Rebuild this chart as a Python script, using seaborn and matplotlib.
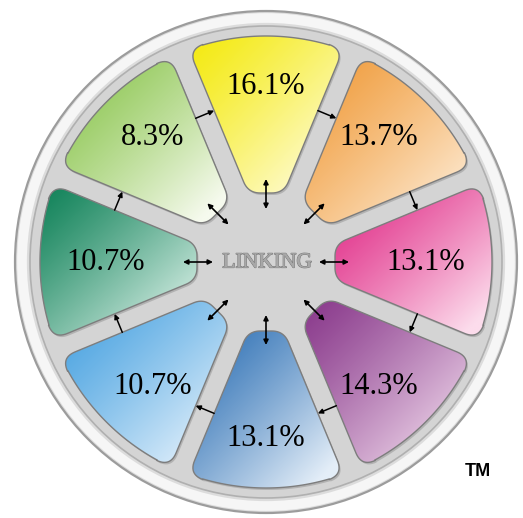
import numpy as np
import matplotlib
matplotlib.use('Agg')
import matplotlib.pyplot as plt
import seaborn as sns
from matplotlib.patches import Polygon, Circle, FancyArrowPatch
import matplotlib.patheffects as pe

# Data: wheel segments, clockwise from the top
labels = ['16.1%', '13.7%', '13.1%', '14.3%', '13.1%', '10.7%', '10.7%', '8.3%']
values = [16.1, 13.7, 13.1, 14.3, 13.1, 10.7, 10.7, 8.3]
strong_colors = ['#f4ea12', '#f09a38', '#e02a86', '#8a3a8c', '#2c6fb4', '#44a0e0', '#12835a', '#88c44a']
pale_colors = ['#fffcd8', '#fde9d0', '#fcdcec', '#eed6ea', '#e4eef8', '#e2f0fb', '#d8efe6', '#f6faee']
center_text = 'LINKING'

sns.set_theme(style='white')
plt.rcParams['font.family'] = ['Liberation Serif', 'DejaVu Serif']

fig = plt.figure(figsize=(5.23, 5.18), dpi=100)
ax = fig.add_axes([0, 0, 1, 1])
ax.set_xlim(0, 523)
ax.set_ylim(518, 0)
ax.set_aspect('equal')
ax.axis('off')

cx, cy = 266, 262
R_out, R_in, half_gap, corner = 226, 69, 10, 15
n = len(values)
step = 2 * np.pi / n


def unit(v):
    return v / np.linalg.norm(v)


def fillet(P, d1, d2, r):
    p1, p2 = P + r * d1, P + r * d2
    s = np.linspace(0, 1, 14)[:, None]
    return (1 - s) ** 2 * p1 + 2 * s * (1 - s) * P + s ** 2 * p2


def local_outline():
    t = np.tan(step / 2)
    k = half_gap / np.cos(step / 2)
    a, b, c = 1 + t * t, -2 * k * t, k * k - R_out ** 2
    yo = (-b + np.sqrt(b * b - 4 * a * c)) / (2 * a)
    xo = yo * t - k
    ao = np.arctan2(xo, yo)
    xi = R_in * t - k
    IL, OL = np.array([-xi, R_in]), np.array([-xo, yo])
    OR, IR = np.array([xo, yo]), np.array([xi, R_in])
    pts = [fillet(IL, np.array([1.0, 0]), unit(OL - IL), corner - 3),
           fillet(OL, unit(IL - OL), np.array([np.cos(ao), np.sin(ao)]), corner)]
    dphi = corner / R_out
    phi = np.linspace(-ao + dphi, ao - dphi, 60)
    pts.append(np.c_[R_out * np.sin(phi), R_out * np.cos(phi)])
    pts.append(fillet(OR, np.array([-np.cos(ao), np.sin(ao)]), unit(IR - OR), corner))
    pts.append(fillet(IR, unit(OR - IR), np.array([-1.0, 0]), corner - 3))
    return np.vstack(pts)


def to_image(local, theta):
    u = np.array([np.cos(theta), np.sin(theta)])
    v = np.array([np.sin(theta), -np.cos(theta)])
    w = local[:, 1:2] * u + local[:, 0:1] * v
    return np.c_[cx + w[:, 0], cy - w[:, 1]]


def polar(r, theta):
    return cx + r * np.cos(theta), cy - r * np.sin(theta)


# outer disc and rim
ax.add_patch(Circle((cx, cy), 251, fc='#dcdcdc', ec='#9c9c9c', lw=1.6, zorder=1))
ax.add_patch(Circle((cx, cy), 244, fc='none', ec='#f6f6f6', lw=7, zorder=1))
ax.add_patch(Circle((cx, cy), 236, fc='#d4d4d4', ec='#b0b0b0', lw=1.2, zorder=1))

outline = local_outline()
for i in range(n):
    theta = np.pi / 2 - i * step
    poly = to_image(outline, theta)
    # soft shadow
    ax.add_patch(Polygon(poly + [1.5, 2], closed=True, fc='#8a8a8a', ec='none', alpha=0.45, zorder=2))
    patch = Polygon(poly, closed=True, fc='none', ec='#7d7d7d', lw=1.0, zorder=4)
    ax.add_patch(patch)
    xmin, ymin = poly.min(axis=0)
    xmax, ymax = poly.max(axis=0)
    gx, gy = np.meshgrid(np.linspace(0, 1, 120), np.linspace(0, 1, 120))
    grad = np.clip(0.55 * gx + 0.55 * gy, 0, 1) ** 1.2
    cmap = sns.blend_palette([strong_colors[i], pale_colors[i]], n_colors=256, as_cmap=True)
    img = ax.imshow(grad, extent=[xmin, xmax, ymax, ymin], origin='upper', cmap=cmap,
                    vmin=0, vmax=1, interpolation='bilinear', zorder=3)
    img.set_clip_path(patch)

    lx = cx + 160 * np.cos(theta)
    ly = cy - 176 * np.sin(theta)
    ax.text(lx, ly, labels[i], fontsize=22, color='black', ha='center', va='center', zorder=6)

    # radial double arrow to the hub
    x0, y0 = polar(53, theta)
    x1, y1 = polar(83, theta)
    ax.add_patch(FancyArrowPatch((x0, y0), (x1, y1), arrowstyle='<|-|>', mutation_scale=7,
                                 lw=1.2, color='black', shrinkA=0, shrinkB=0, zorder=7))

    # clockwise arrow across the gap to the next segment
    gap = theta - step / 2
    d = 10 / 160
    x0, y0 = polar(160, gap + d)
    x1, y1 = polar(160, gap - d)
    ax.add_patch(FancyArrowPatch((x0, y0), (x1, y1), arrowstyle='-|>', mutation_scale=7,
                                 lw=1.1, color='black', shrinkA=0, shrinkB=0, zorder=7))

ax.text(cx + 1, cy + 1, center_text, fontsize=15.5, color='#a8a8a8', ha='center', va='center', zorder=6,
        path_effects=[pe.withStroke(linewidth=0.9, foreground='#777777'), pe.Normal()])
ax.text(478, 472, 'TM', fontsize=13, fontweight='bold', family=['Liberation Sans', 'DejaVu Sans'],
        color='black', ha='center', va='center', zorder=6)

fig.savefig('out.png', dpi=100, facecolor='white')
